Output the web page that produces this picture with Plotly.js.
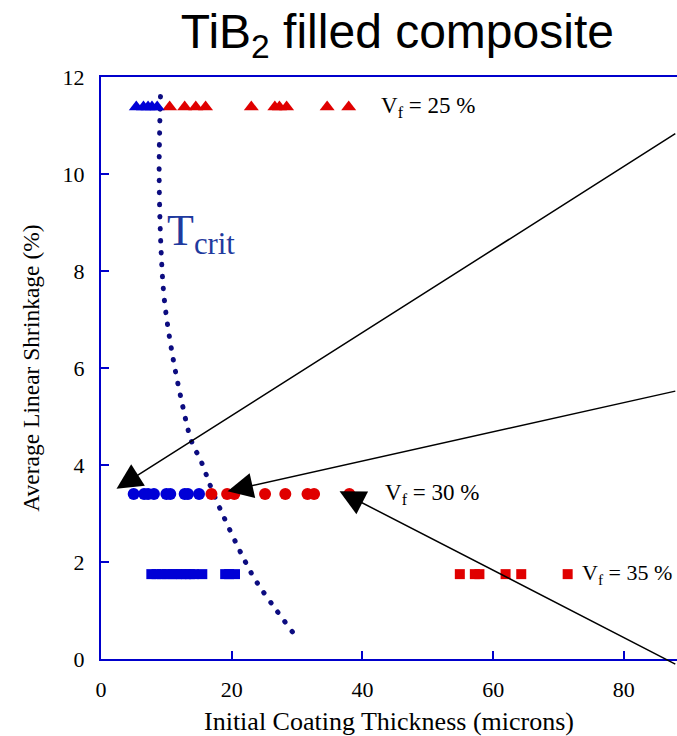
<!DOCTYPE html>
<html>
<head>
<meta charset="utf-8">
<script src="https://cdn.plot.ly/plotly-3.0.1.min.js"></script>
<style>
html,body{margin:0;padding:0;background:#fff;}
#chart .scatterlayer .js-line{stroke-linecap:round !important;}
</style>
</head>
<body>
<div id="chart" style="width:677px;height:736px;"></div>
<script>
// ---- data ----
// Vf = 25 % (triangles)
const tri25BlueX = [5.4, 6.5, 7.2, 7.8, 8.6];
const tri25BlueY = [11.38, 11.38, 11.38, 11.38, 11.38];
const tri25RedX  = [10.5, 12.8, 14.5, 16.0, 23.0, 26.6, 27.3, 28.4, 34.6, 37.9];
const tri25RedY  = [11.38, 11.38, 11.38, 11.38, 11.38, 11.38, 11.38, 11.38, 11.38, 11.38];
// Vf = 30 % (circles)
const cir30BlueX = [5.0, 6.6, 7.2, 8.1, 10.0, 10.6, 12.8, 13.3, 15.0];
const cir30BlueY = [3.40, 3.40, 3.40, 3.40, 3.40, 3.40, 3.40, 3.40, 3.40];
const cir30RedX  = [16.9, 19.3, 20.4, 25.1, 28.2, 31.6, 32.6, 38.0];
const cir30RedY  = [3.40, 3.40, 3.40, 3.40, 3.40, 3.40, 3.40, 3.40];
// Vf = 35 % (squares)
const sq35BlueX = [7.7, 8.5, 9.3, 10.1, 10.9, 11.6, 12.3, 13.0, 13.6, 14.2, 15.5, 19.0, 19.6, 20.5];
const sq35BlueY = [1.75, 1.75, 1.75, 1.75, 1.75, 1.75, 1.75, 1.75, 1.75, 1.75, 1.75, 1.75, 1.75, 1.75];
const sq35RedX  = [54.9, 57.2, 57.9, 61.9, 64.3, 71.4];
const sq35RedY  = [1.75, 1.75, 1.75, 1.75, 1.75, 1.75];
// T_crit curve
const tcritX = [9.1, 8.9, 9.2, 9.7, 10.8, 12.3, 13.85, 15.3, 17.3, 22.1, 23.9, 29.5];
const tcritY = [11.6, 10.0, 8.4, 7.4, 6.37, 5.34, 4.49, 4.08, 3.38, 2.0, 1.57, 0.52];
// arrows: tail and head positions
const arrowTailX = [88.1, 88.1, 88.1];
const arrowTailY = [10.85, 5.53, -0.12];
const arrowHeadX = [2.37, 19.36, 36.5];
const arrowHeadY = [3.51, 3.46, 3.46];
// labels
const vfLabels = ['V<sub>f</sub> = 25 %', 'V<sub>f</sub> = 30 %', 'V<sub>f</sub> = 35 %'];
const vfLabelX = [42.6, 43.1, 73.3];
const vfLabelY = [11.38, 3.40, 1.75];
const vfLabelSize = [23, 23, 22];
const xTicks = [0, 20, 40, 60, 80];
const yTicks = [0, 2, 4, 6, 8, 10, 12];

const BLUE = '#0000d6';
const RED = '#e00000';
const AXIS = '#0000cc';
const SERIF = 'Liberation Serif, Times New Roman, serif';

function mk(x, y, sym, color, size) {
  return {x: x, y: y, type: 'scatter', mode: 'markers', hoverinfo: 'skip',
    marker: {symbol: sym, color: color, size: size, line: {width: 0}}, cliponaxis: false};
}

const traces = [
  {x: tcritX, y: tcritY, type: 'scatter', mode: 'lines', hoverinfo: 'skip',
   line: {color: '#0c0c80', width: 5, shape: 'spline', smoothing: 1, dash: '0.5px,11.5px'}},
  mk(tri25RedX, tri25RedY, 'triangle-up', RED, 13),
  mk(tri25BlueX, tri25BlueY, 'triangle-up', BLUE, 13),
  mk(cir30RedX, cir30RedY, 'circle', RED, 12),
  mk(cir30BlueX, cir30BlueY, 'circle', BLUE, 12),
  mk(sq35RedX, sq35RedY, 'square', RED, 10),
  mk(sq35BlueX, sq35BlueY, 'square', BLUE, 10)
];

const annotations = [];
for (let i = 0; i < arrowHeadX.length; i++) {
  annotations.push({x: arrowHeadX[i], y: arrowHeadY[i], xref: 'x', yref: 'y',
    ax: arrowTailX[i], ay: arrowTailY[i], axref: 'x', ayref: 'y', text: '',
    showarrow: true, arrowhead: 2, arrowsize: 3.4, arrowwidth: 1.5, arrowcolor: '#000'});
}
for (let i = 0; i < vfLabels.length; i++) {
  annotations.push({x: vfLabelX[i], y: vfLabelY[i], xref: 'x', yref: 'y', text: vfLabels[i],
    showarrow: false, xanchor: 'left', yanchor: 'middle',
    font: {family: SERIF, size: vfLabelSize[i], color: '#000'}});
}
annotations.push({x: 9.85, y: 8.78, xref: 'x', yref: 'y', text: 'T<sub>crit</sub>',
  showarrow: false, xanchor: 'left', yanchor: 'middle',
  font: {family: SERIF, size: 44, color: '#1f3a9e'}});

const layout = {
  width: 677, height: 736,
  margin: {l: 101, r: 0, t: 77, b: 77},
  paper_bgcolor: '#fff', plot_bgcolor: '#fff',
  showlegend: false,
  title: {text: 'TiB<sub>2</sub> filled composite', font: {family: 'Liberation Sans, Arial, sans-serif', size: 48, color: '#000'},
    x: 0.587, xref: 'container', xanchor: 'center', y: 0.958, yref: 'container', yanchor: 'middle'},
  xaxis: {range: [0, 88.13], tickvals: xTicks, ticktext: xTicks.map(String), ticks: 'inside', ticklen: 8, tickwidth: 2,
    tickcolor: AXIS, showline: true, linecolor: AXIS, linewidth: 2, mirror: true, showgrid: false, zeroline: false,
    tickfont: {family: SERIF, size: 22, color: '#000'}, ticklabelstandoff: 10,
    title: {text: 'Initial Coating Thickness (microns)', font: {family: SERIF, size: 26, color: '#000'}, standoff: 12}},
  yaxis: {range: [0, 12], tickvals: yTicks, ticktext: yTicks.map(String), ticks: 'inside', ticklen: 8, tickwidth: 2,
    tickcolor: AXIS, showline: true, linecolor: AXIS, linewidth: 2, showgrid: false, zeroline: false,
    tickfont: {family: SERIF, size: 22, color: '#000'}, ticklabelstandoff: 10,
    title: {text: 'Average Linear Shrinkage (%)', font: {family: SERIF, size: 23.5, color: '#000'}, standoff: 16}},
  annotations: annotations
};

Plotly.newPlot('chart', traces, layout, {displayModeBar: false, staticPlot: true});
</script>
</body>
</html>
